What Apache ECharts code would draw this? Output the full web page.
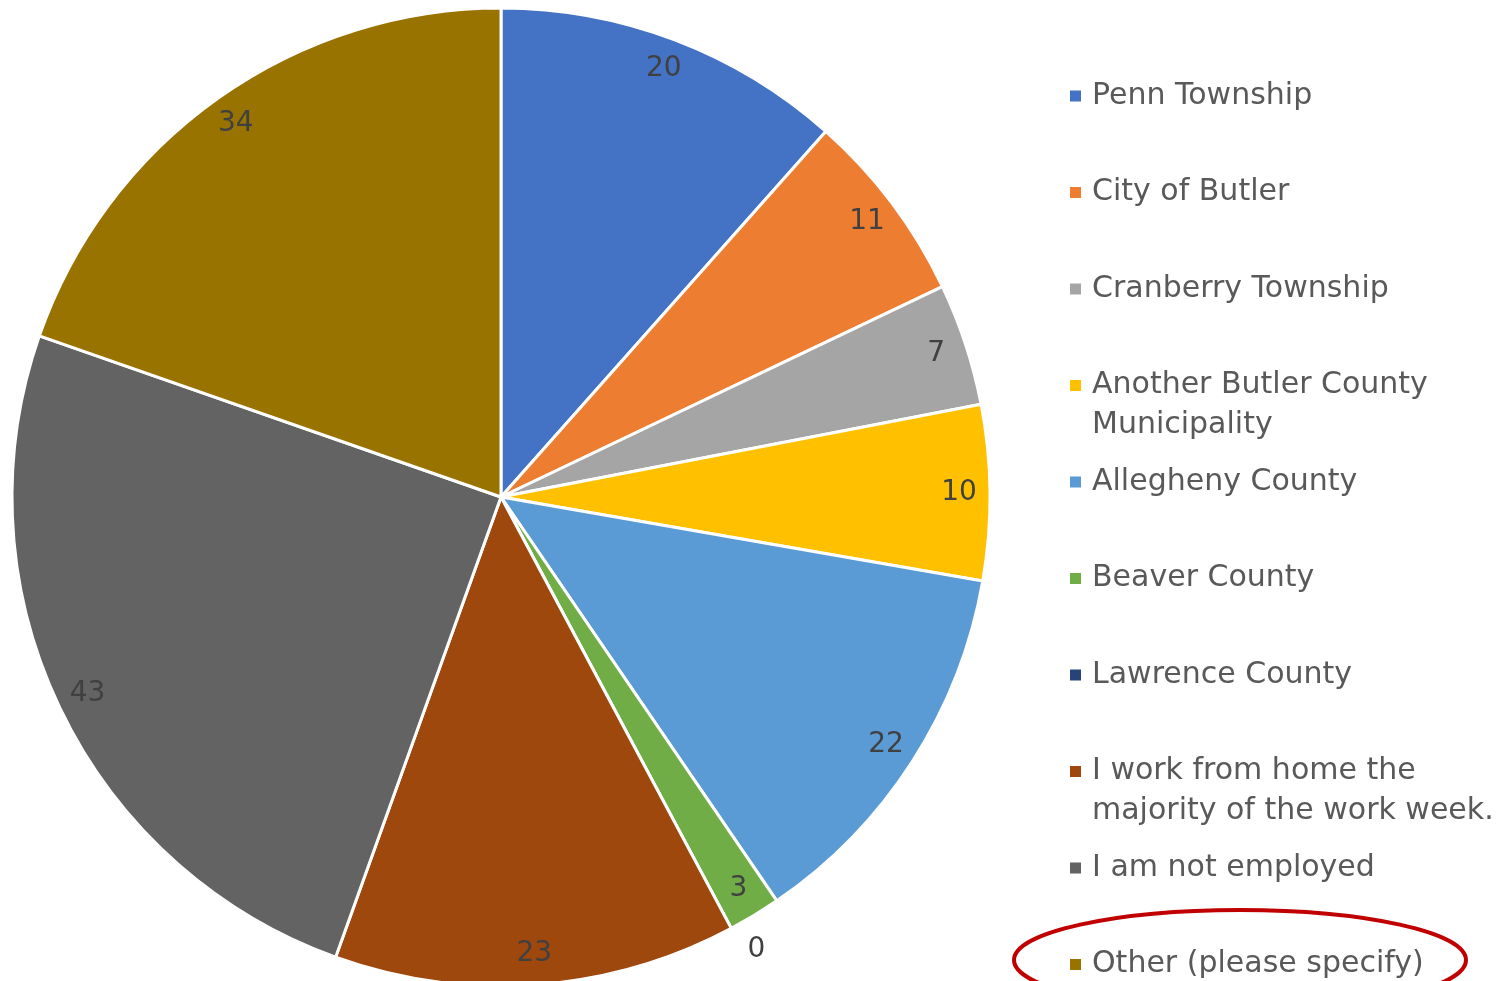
<!DOCTYPE html>
<html>
<head>
<meta charset="utf-8">
<script src="https://cdn.jsdelivr.net/npm/echarts@6/dist/echarts.min.js"></script>
<style>
  html, body { margin: 0; padding: 0; background: #fff; }
  #main { width: 1504px; height: 981px; }
</style>
</head>
<body>
<div id="main"></div>
<script>
var categories = [
    'Penn Township',
    'City of Butler',
    'Cranberry Township',
    'Another Butler County Municipality',
    'Allegheny County',
    'Beaver County',
    'Lawrence County',
    'I work from home the majority of the work week.',
    'I am not employed',
    'Other (please specify)'
];
var counts = [20, 11, 7, 10, 22, 3, 0, 23, 43, 34];
var colors = ['#4472C4', '#ED7D31', '#A5A5A5', '#FFC000', '#5B9BD5',
              '#70AD47', '#264478', '#9E480E', '#636363', '#997300'];
// how the legend text wraps
var legendLabels = {
    'Another Butler County Municipality': ['Another Butler County', 'Municipality'],
    'I work from home the majority of the work week.': ['I work from home the', 'majority of the work week.']
};

var dom = document.getElementById('main');
var myChart = echarts.init(dom);

var FONT = 'DejaVu Sans';
var LINE = 40;

var pieData = categories.map(function (name, i) {
    return { name: name, value: counts[i], itemStyle: { color: colors[i] } };
});
var labelData = categories.map(function (name, i) {
    var d = { name: name, value: counts[i] };
    if (counts[i] === 0) {
        d.label = { position: 'outside' };
        d.labelLine = { show: false, length: 24, length2: 0 };
    }
    return d;
});

// one legend per entry so the rows keep an even pitch;
// wrapped entries get an empty first line so the icon sits by the first text line
var legends = categories.map(function (name, i) {
    var twoLine = !!legendLabels[name];
    var center = 96 + 96.5 * i;
    return {
        orient: 'vertical',
        left: 1068,
        top: center - (twoLine ? LINE * 1.5 : LINE / 2),
        padding: 0,
        icon: 'rect',
        itemWidth: 13,
        itemHeight: 13,
        selectedMode: false,
        data: [name],
        formatter: function (n) {
            return legendLabels[n] ? '\n' + legendLabels[n].join('\n') : n;
        },
        textStyle: {
            fontFamily: FONT,
            fontSize: 30,
            lineHeight: LINE,
            color: '#595959',
            padding: [0, 0, 0, 5]
        }
    };
});

option = {
    backgroundColor: '#fff',
    animation: false,
    legend: legends,
    series: [
        {
            name: 'Work location',
            type: 'pie',
            center: [501, 497],
            radius: [0, 489],
            startAngle: 90,
            clockwise: true,
            label: { show: false },
            labelLine: { show: false },
            itemStyle: { borderColor: '#fff', borderWidth: 3 },
            emphasis: { disabled: true },
            data: pieData
        },
        {
            // transparent ring that only carries the value labels near the rim
            name: 'labels',
            type: 'pie',
            center: [501, 497],
            radius: [421, 489],
            startAngle: 90,
            clockwise: true,
            silent: true,
            avoidLabelOverlap: false,
            itemStyle: { color: 'rgba(0,0,0,0)', borderWidth: 0 },
            emphasis: { disabled: true },
            label: {
                show: true,
                position: 'inside',
                formatter: '{c}',
                fontFamily: FONT,
                fontSize: 28,
                color: '#404040'
            },
            labelLine: { show: false },
            data: labelData
        }
    ],
    graphic: [
        {
            type: 'ellipse',
            shape: { cx: 1240, cy: 960, rx: 226, ry: 50 },
            style: { fill: null, stroke: '#C00000', lineWidth: 4 },
            silent: true,
            z: 100
        }
    ]
};

if (option && typeof option === 'object') {
    myChart.setOption(option, true);
}
</script>
</body>
</html>
